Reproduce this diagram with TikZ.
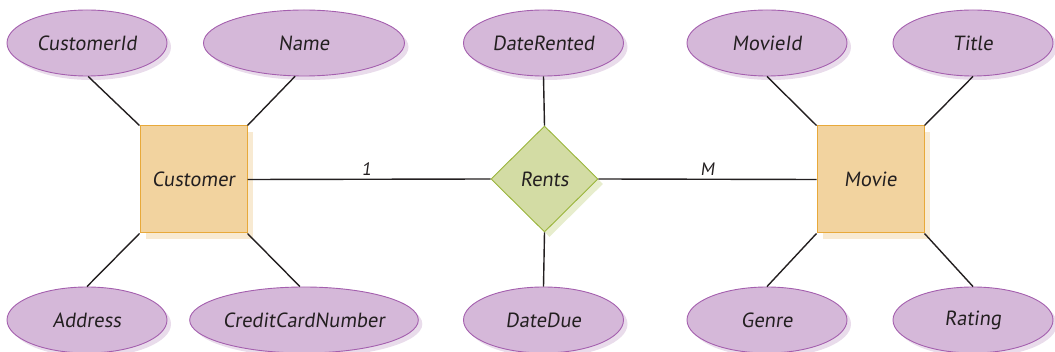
\documentclass[tikz,border=0pt]{standalone}
\usepackage{fontspec}
\setmainfont{PT Sans}
\newfontfamily\erfont[FakeSlant=0.13]{PT Sans}
\usetikzlibrary{shapes.geometric,shadows}
\definecolor{attrfill}{HTML}{D5B8D9}
\definecolor{attrdraw}{HTML}{A45FAE}
\definecolor{attrshadow}{HTML}{E9DCEB}
\definecolor{entfill}{HTML}{F2D39F}
\definecolor{entdraw}{HTML}{E8A93A}
\definecolor{entshadow}{HTML}{F8EAD2}
\definecolor{relfill}{HTML}{D3DCA4}
\definecolor{reldraw}{HTML}{9AB53A}
\definecolor{relshadow}{HTML}{E7EDCD}
\definecolor{ink}{HTML}{231F20}
\tikzset{
  every node/.style={font=\erfont\fontsize{20.5}{24}\selectfont, text=ink},
  attr/.style={ellipse, draw=attrdraw, fill=attrfill, line width=0.9pt,
    minimum width=160pt, minimum height=66pt, inner sep=0pt,
    general shadow={fill=attrshadow, shadow xshift=4pt, shadow yshift=-4pt}},
  wattr/.style={attr, minimum width=201pt},
  entity/.style={rectangle, draw=entdraw, fill=entfill, line width=1pt,
    minimum width=107pt, minimum height=107pt, inner sep=0pt,
    general shadow={fill=entshadow, shadow xshift=6pt, shadow yshift=-6pt}},
  rel/.style={diamond, draw=reldraw, fill=relfill, line width=0.9pt,
    minimum width=107pt, minimum height=106pt, inner sep=0pt, aspect=1,
    general shadow={fill=relshadow, shadow xshift=5pt, shadow yshift=-5pt}},
  link/.style={draw=ink, line width=1.4pt},
  card/.style={font=\erfont\fontsize{18}{21}\selectfont}
}
\begin{document}
\begin{tikzpicture}[x=1pt,y=-1pt]
\useasboundingbox (0,0) rectangle (1055,352);
\node[attr] (cid) at (87,43) {CustomerId};
\node[wattr] (name) at (304,43) {Name};
\node[attr] (drent) at (543.5,43) {DateRented};
\node[attr] (mid) at (767,43) {MovieId};
\node[attr] (title) at (973,43) {Title};
\node[attr] (addr) at (87,320) {Address};
\node[wattr] (ccn) at (304,320) {CreditCardNumber};
\node[attr] (ddue) at (543.5,320) {DateDue};
\node[attr] (genre) at (767,320) {Genre};
\node[attr] (rating) at (973,320) {Rating};
\node[entity] (cust) at (193.5,179.5) {Customer};
\node[entity] (movie) at (870.5,179.5) {Movie};
\node[rel] (rents) at (544.5,179) {Rents};
\draw[link] (cid.272) -- (cust.north west);
\draw[link] (name.255) -- (cust.north east);
\draw[link] (addr.north) -- (cust.south west);
\draw[link] (ccn.97) -- (cust.south east);
\draw[link] (mid.south) -- (movie.north west);
\draw[link] (title.south) -- (movie.north east);
\draw[link] (genre.north) -- (movie.south west);
\draw[link] (rating.north) -- (movie.south east);
\draw[link] (drent.south) -- (rents.north);
\draw[link] (rents.south) -- (ddue.north);
\draw[link] (cust.east) -- node[card, above=0pt, pos=0.49] (one) {1} (rents.west);
\draw[link] (rents.east) -- node[card, above=0pt, pos=0.5] (many) {M} (movie.west);
\end{tikzpicture}
\end{document}
